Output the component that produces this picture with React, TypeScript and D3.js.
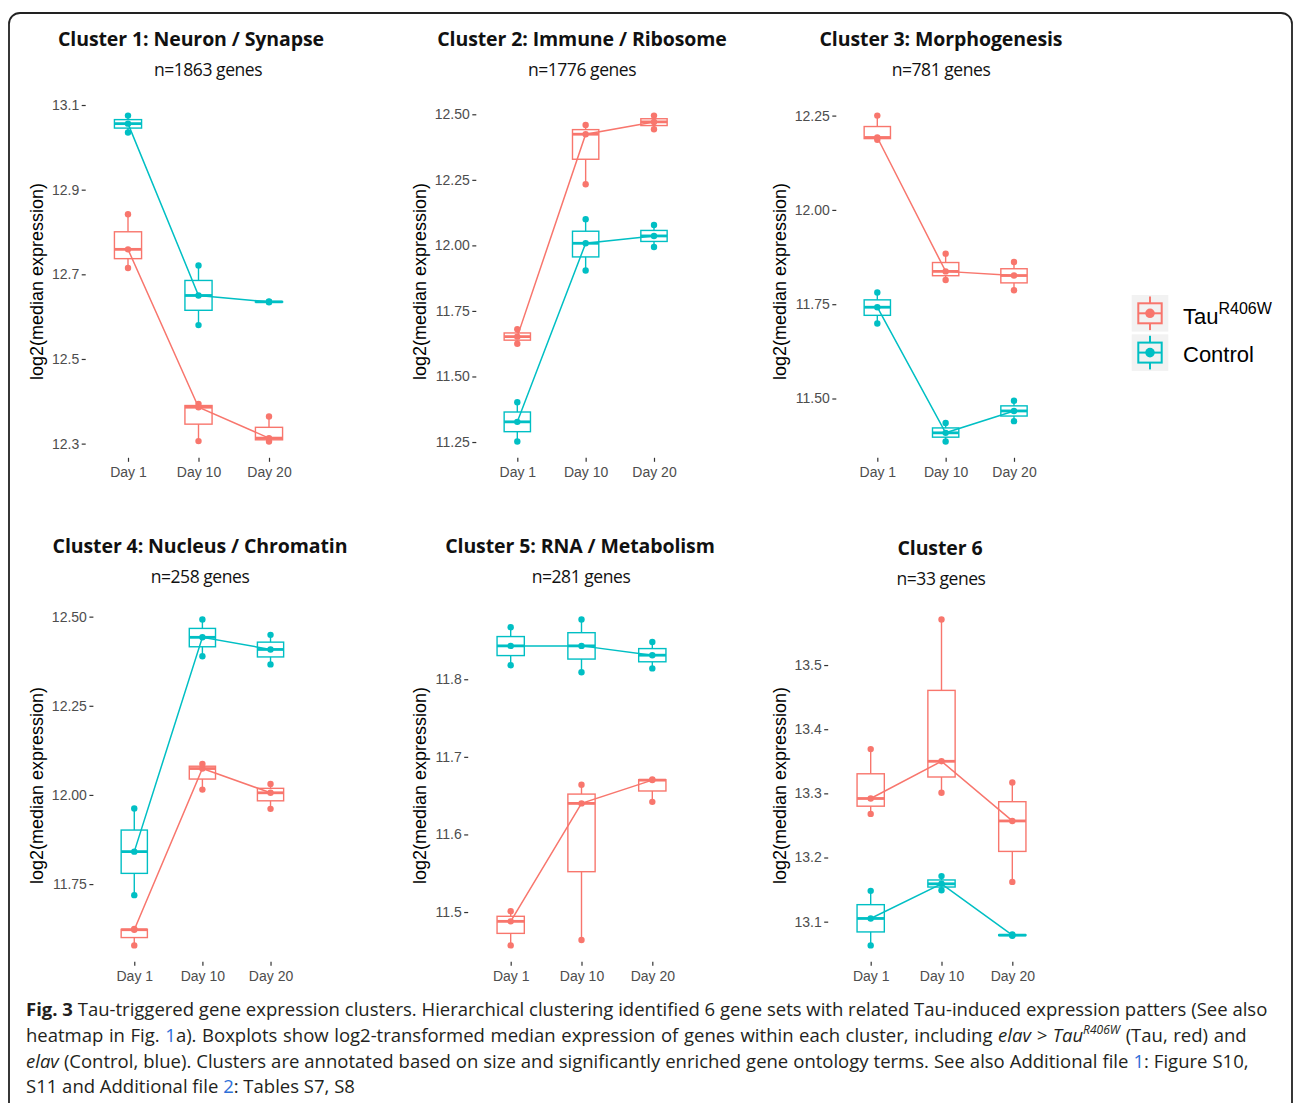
import * as d3 from 'd3';
import { useEffect, useRef } from 'react';

// categories
const days = ['Day 1', 'Day 10', 'Day 20'];
const groupNames = ['Tau', 'Control'];
const groupColors = ['#F8766D', '#00BFC4'];

const clusterTitles = [
  'Cluster 1: Neuron / Synapse',
  'Cluster 2: Immune / Ribosome',
  'Cluster 3: Morphogenesis',
  'Cluster 4: Nucleus / Chromatin',
  'Cluster 5: RNA / Metabolism',
  'Cluster 6',
];
const clusterSizes = ['n=1863 genes', 'n=1776 genes', 'n=781 genes', 'n=258 genes', 'n=281 genes', 'n=33 genes'];

// replicate values (3 per day) -> [Day 1, Day 10, Day 20]
const c1Tau = [[12.715, 12.759, 12.842], [12.306, 12.386, 12.394], [12.305, 12.313, 12.364]];
const c1Control = [[13.035, 13.056, 13.075], [12.58, 12.65, 12.721], [12.634, 12.635, 12.636]];
const c2Tau = [[11.625, 11.652, 11.68], [12.233, 12.424, 12.459], [12.443, 12.471, 12.495]];
const c2Control = [[11.252, 11.327, 11.402], [11.904, 12.008, 12.1], [11.994, 12.036, 12.078]];
const c3Tau = [[12.186, 12.192, 12.25], [11.814, 11.837, 11.884], [11.787, 11.826, 11.862]];
const c3Control = [[11.699, 11.742, 11.781], [11.386, 11.409, 11.435], [11.44, 11.467, 11.494]];
const c4Tau = [[11.578, 11.622, 11.624], [12.015, 12.074, 12.087], [11.961, 12.006, 12.031]];
const c4Control = [[11.719, 11.841, 11.962], [12.389, 12.442, 12.492], [12.366, 12.408, 12.449]];
const c5Tau = [[11.457, 11.488, 11.501], [11.464, 11.64, 11.664], [11.642, 11.67, 11.671]];
const c5Control = [[11.818, 11.843, 11.867], [11.809, 11.843, 11.877], [11.814, 11.831, 11.848]];
const c6Tau = [[13.268, 13.292, 13.369], [13.301, 13.35, 13.571], [13.162, 13.257, 13.317]];
const c6Control = [[13.063, 13.105, 13.148], [13.149, 13.159, 13.171], [13.078, 13.079, 13.08]];

// y tick labels
const c1Ticks = [12.3, 12.5, 12.7, 12.9, 13.1];
const c2Ticks = [11.25, 11.5, 11.75, 12.0, 12.25, 12.5];
const c3Ticks = [11.5, 11.75, 12.0, 12.25];
const c4Ticks = [11.75, 12.0, 12.25, 12.5];
const c5Ticks = [11.5, 11.6, 11.7, 11.8];
const c6Ticks = [13.1, 13.2, 13.3, 13.4, 13.5];

const tauValues = [c1Tau, c2Tau, c3Tau, c4Tau, c5Tau, c6Tau];
const controlValues = [c1Control, c2Control, c3Control, c4Control, c5Control, c6Control];
const tickValues = [c1Ticks, c2Ticks, c3Ticks, c4Ticks, c5Ticks, c6Ticks];
const tickFormats = ['.1f', '.2f', '.2f', '.2f', '.1f', '.1f'];

// panel placement on the page
const layout = [
  { left: 85.7, right: 311.3, top: 99.3, bottom: 457.8, titleX: 191, subX: 208, titleY: 46, subY: 76, yTitleX: 37 },
  { left: 476.3, right: 695, top: 99.3, bottom: 457.8, titleX: 582, subX: 582, titleY: 46, subY: 76, yTitleX: 420 },
  { left: 836.3, right: 1055, top: 99.3, bottom: 457.8, titleX: 941, subX: 941, titleY: 46, subY: 76, yTitleX: 780 },
  { left: 93.4, right: 311.4, top: 603.2, bottom: 961.7, titleX: 200, subX: 200, titleY: 553, subY: 583, yTitleX: 37 },
  { left: 468.2, right: 694.8, top: 603.2, bottom: 961.7, titleX: 580, subX: 581, titleY: 553, subY: 583, yTitleX: 420 },
  { left: 828.2, right: 1054.8, top: 603.2, bottom: 961.7, titleX: 940, subX: 941, titleY: 555, subY: 585, yTitleX: 780 },
];

const axisFont = '"Liberation Sans", Arial, Helvetica, sans-serif';
const titleFont = '"Open Sans", "Noto Sans", sans-serif';

const App = () => {
  const svgRef = useRef(null);

  useEffect(() => {
    const svg = d3.select(svgRef.current);
    svg.selectAll('*').remove();
    svg.attr('width', 1293).attr('height', 1103);

    svg.append('rect').attr('width', 1293).attr('height', 1103).attr('fill', 'white');

    // figure frame
    svg
      .append('rect')
      .attr('x', 9)
      .attr('y', 13)
      .attr('width', 1283)
      .attr('height', 1140)
      .attr('rx', 11)
      .attr('fill', 'none')
      .attr('stroke', '#222')
      .attr('stroke-width', 1.8);

    layout.forEach((l, i) => {
      const g = svg.append('g');
      const series = [tauValues[i], controlValues[i]];
      const allVals = series.flat(2);
      const [mn, mx] = d3.extent(allVals);
      const pad = (mx - mn) * 0.05;

      const x = d3.scalePoint().domain(days).range([l.left, l.right]).padding(0.6);
      const y = d3.scaleLinear().domain([mn - pad, mx + pad]).range([l.bottom, l.top]);
      const bw = x.step() * 0.385;

      // titles
      g.append('text')
        .attr('x', l.titleX)
        .attr('y', l.titleY)
        .attr('text-anchor', 'middle')
        .style('font-family', titleFont)
        .style('font-weight', 700)
        .style('font-size', '19.5px')
        .style('letter-spacing', '-0.1px')
        .style('fill', '#111')
        .text(clusterTitles[i]);
      g.append('text')
        .attr('x', l.subX)
        .attr('y', l.subY)
        .attr('text-anchor', 'middle')
        .style('font-family', titleFont)
        .style('font-size', '17.5px')
        .style('letter-spacing', '-0.45px')
        .style('fill', '#111')
        .text(clusterSizes[i]);

      // y axis
      const yAxis = g
        .append('g')
        .attr('transform', `translate(${l.left},0)`)
        .call(
          d3
            .axisLeft(y)
            .tickValues(tickValues[i])
            .tickSize(4)
            .tickPadding(2.5)
            .tickFormat(d3.format(tickFormats[i]))
        );
      yAxis.select('.domain').remove();
      yAxis.selectAll('line').attr('stroke', '#333').attr('stroke-width', 1.2);
      yAxis
        .selectAll('text')
        .style('font-family', axisFont)
        .style('font-size', '14px')
        .style('fill', '#4D4D4D');

      // x axis
      const xAxis = g
        .append('g')
        .attr('transform', `translate(0,${l.bottom})`)
        .call(d3.axisBottom(x).tickSize(4).tickPadding(5));
      xAxis.select('.domain').remove();
      xAxis.selectAll('line').attr('stroke', '#333').attr('stroke-width', 1.2);
      xAxis
        .selectAll('text')
        .style('font-family', axisFont)
        .style('font-size', '14px')
        .style('fill', '#4D4D4D');

      // y title
      g.append('text')
        .attr('transform', `translate(${l.yTitleX},${(l.top + l.bottom) / 2 + 3}) rotate(-90)`)
        .attr('text-anchor', 'middle')
        .attr('dy', '0.35em')
        .style('font-family', axisFont)
        .style('font-size', '18px')
        .style('fill', '#000')
        .text('log2(median expression)');

      series.forEach((vals, s) => {
        const color = groupColors[s];
        const stats = vals.map((v, d) => {
          const sorted = v.slice().sort(d3.ascending);
          return {
            day: days[d],
            values: sorted,
            min: sorted[0],
            q1: d3.quantile(sorted, 0.25),
            med: d3.quantile(sorted, 0.5),
            q3: d3.quantile(sorted, 0.75),
            max: sorted[sorted.length - 1],
          };
        });

        const box = g.append('g').selectAll('g').data(stats).join('g');
        box
          .append('line')
          .attr('x1', (d) => x(d.day))
          .attr('x2', (d) => x(d.day))
          .attr('y1', (d) => y(d.max))
          .attr('y2', (d) => y(d.q3))
          .attr('stroke', color)
          .attr('stroke-width', 1.4);
        box
          .append('line')
          .attr('x1', (d) => x(d.day))
          .attr('x2', (d) => x(d.day))
          .attr('y1', (d) => y(d.q1))
          .attr('y2', (d) => y(d.min))
          .attr('stroke', color)
          .attr('stroke-width', 1.4);
        box
          .append('rect')
          .attr('x', (d) => x(d.day) - bw / 2)
          .attr('width', bw)
          .attr('y', (d) => y(d.q3))
          .attr('height', (d) => Math.max(0.5, y(d.q1) - y(d.q3)))
          .attr('fill', 'none')
          .attr('stroke', color)
          .attr('stroke-width', 1.4);
        box
          .append('line')
          .attr('x1', (d) => x(d.day) - bw / 2)
          .attr('x2', (d) => x(d.day) + bw / 2)
          .attr('y1', (d) => y(d.med))
          .attr('y2', (d) => y(d.med))
          .attr('stroke', color)
          .attr('stroke-width', 2.8);

        // replicate points
        g.append('g')
          .selectAll('circle')
          .data(stats.flatMap((d) => d.values.map((v) => ({ day: d.day, v }))))
          .join('circle')
          .attr('cx', (d) => x(d.day))
          .attr('cy', (d) => y(d.v))
          .attr('r', 3.2)
          .attr('fill', color);

        // median trend line
        g.append('path')
          .datum(stats)
          .attr('fill', 'none')
          .attr('stroke', color)
          .attr('stroke-width', 1.5)
          .attr(
            'd',
            d3
              .line()
              .x((d) => x(d.day))
              .y((d) => y(d.med))
          );
      });
    });

    // legend
    const legend = svg.append('g').attr('transform', 'translate(1131.7,295)');
    groupNames.forEach((name, i) => {
      const k = legend.append('g').attr('transform', `translate(0,${i * 39.3})`);
      const color = groupColors[i];
      k.append('rect').attr('width', 36.6).attr('height', 36.6).attr('fill', '#F2F2F2');
      k.append('line').attr('x1', 18.3).attr('x2', 18.3).attr('y1', 1.5).attr('y2', 35.1).attr('stroke', color).attr('stroke-width', 2);
      k.append('rect')
        .attr('x', 6.6)
        .attr('y', 8.3)
        .attr('width', 23.4)
        .attr('height', 20)
        .attr('fill', '#F2F2F2')
        .attr('stroke', color)
        .attr('stroke-width', 2);
      k.append('line').attr('x1', 6.6).attr('x2', 30).attr('y1', 18.3).attr('y2', 18.3).attr('stroke', color).attr('stroke-width', 2);
      k.append('circle').attr('cx', 18.3).attr('cy', 18.3).attr('r', 4.8).attr('fill', color);
    });
    const tauLabel = svg
      .append('text')
      .attr('x', 1183)
      .attr('y', 323.5)
      .style('font-family', axisFont)
      .style('font-size', '22px')
      .style('fill', '#000');
    tauLabel.append('tspan').text('Tau');
    tauLabel.append('tspan').attr('dy', -10).style('font-size', '16px').text('R406W');
    svg
      .append('text')
      .attr('x', 1183)
      .attr('y', 362)
      .style('font-family', axisFont)
      .style('font-size', '22px')
      .style('fill', '#000')
      .text('Control');

    // caption
    const cap = svg
      .append('g')
      .style('font-family', titleFont)
      .style('font-size', '18.5px')
      .style('fill', '#231F20');
    const link = '#2E6FD8';

    const l1 = cap.append('text').attr('x', 26).attr('y', 1016);
    l1.append('tspan').style('font-weight', 700).text('Fig. 3');
    l1.append('tspan').text(
      ' Tau-triggered gene expression clusters. Hierarchical clustering identified 6 gene sets with related Tau-induced expression patters (See also'
    );

    const l2 = cap.append('text').attr('x', 26).attr('y', 1041.8).style('word-spacing', '0.8px');
    l2.append('tspan').text('heatmap in Fig. ');
    l2.append('tspan').style('fill', link).text('1');
    l2.append('tspan').text('a). Boxplots show log2-transformed median expression of genes within each cluster, including ');
    l2.append('tspan').style('font-style', 'italic').text('elav > Tau');
    l2.append('tspan').attr('dy', -8).style('font-style', 'italic').style('font-size', '12px').text('R406W');
    l2.append('tspan').attr('dy', 8).text(' (Tau, red) and');

    const l3 = cap.append('text').attr('x', 26).attr('y', 1067.6).style('word-spacing', '0.2px');
    l3.append('tspan').style('font-style', 'italic').text('elav');
    l3.append('tspan').text(
      ' (Control, blue). Clusters are annotated based on size and significantly enriched gene ontology terms. See also Additional file '
    );
    l3.append('tspan').style('fill', link).text('1');
    l3.append('tspan').text(': Figure S10,');

    const l4 = cap.append('text').attr('x', 26).attr('y', 1093.4);
    l4.append('tspan').text('S11 and Additional file ');
    l4.append('tspan').style('fill', link).text('2');
    l4.append('tspan').text(': Tables S7, S8');
  }, []);

  return <svg ref={svgRef} style={{ position: 'absolute', left: 0, top: 0, display: 'block' }}></svg>;
};

export default App;
